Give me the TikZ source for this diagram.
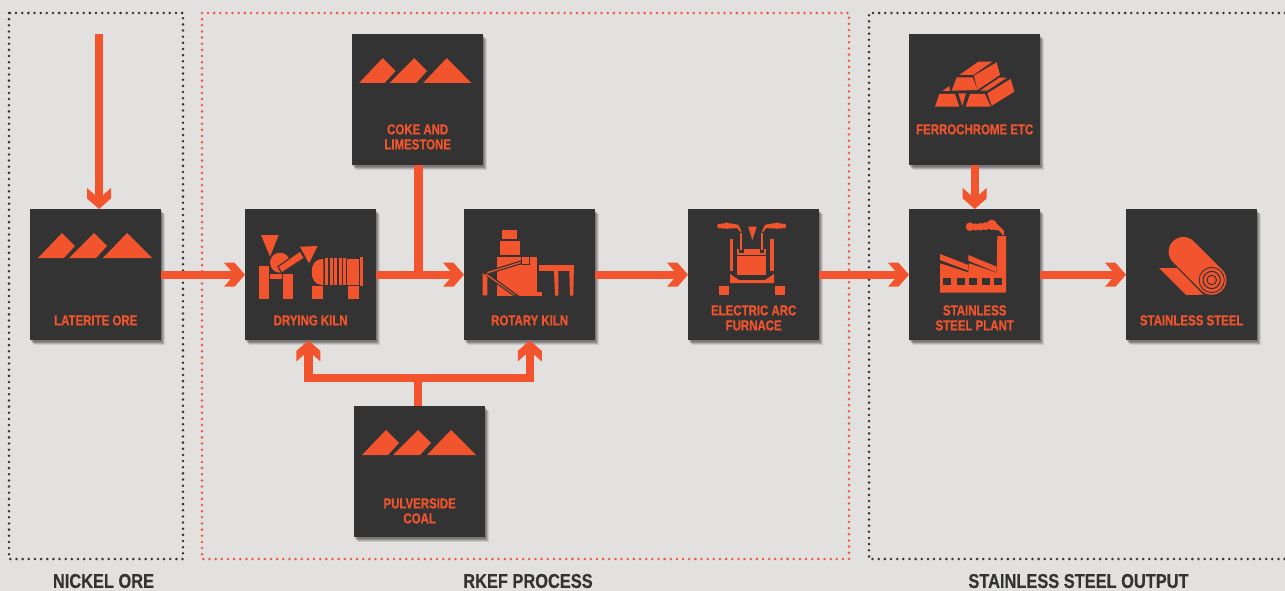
\documentclass[tikz,border=0pt]{standalone}
\usepackage{fontspec}
\newfontfamily\labf[FakeStretch=0.79,BoldFeatures={FakeBold=0.4}]{Liberation Sans}
\newfontfamily\capf[FakeStretch=0.82,BoldFeatures={FakeBold=0.35}]{Liberation Sans}
\usetikzlibrary{shadows,arrows.meta}
\definecolor{bgc}{HTML}{E2E1DF}
\definecolor{org}{HTML}{F2552E}
\definecolor{drk}{HTML}{333333}
\definecolor{dotk}{HTML}{333333}
\definecolor{dotr}{HTML}{F2553A}
\pgfdeclarearrow{
  name=Chev,
  setup code={
    \pgfarrowssettipend{0pt}
    \pgfarrowssetlineend{-6pt}
    \pgfarrowssetbackend{-21pt}
    \pgfarrowssetvisualbackend{-11pt}
    \pgfarrowshullpoint{0pt}{0pt}
    \pgfarrowshullpoint{-21pt}{12pt}
    \pgfarrowshullpoint{-21pt}{-12pt}
  },
  drawing code={
    \pgfpathmoveto{\pgfqpoint{0pt}{0pt}}
    \pgfpathlineto{\pgfqpoint{-10.5pt}{12pt}}
    \pgfpathlineto{\pgfqpoint{-21pt}{12pt}}
    \pgfpathlineto{\pgfqpoint{-10.5pt}{0pt}}
    \pgfpathlineto{\pgfqpoint{-21pt}{-12pt}}
    \pgfpathlineto{\pgfqpoint{-10.5pt}{-12pt}}
    \pgfpathclose
    \pgfusepathqfill
  }
}
\tikzset{
  frameK/.style={draw=dotk,line width=2.8pt,line cap=round,dash pattern=on 0pt off 6.15pt},
  frameR/.style={draw=dotr,line width=2.8pt,line cap=round,dash pattern=on 0pt off 6.15pt},
  flow/.style={draw=org,line width=8.4pt},
  flowtip/.style={flow,-{Chev}},
  box/.style={rectangle,fill=drk,minimum width=131pt,minimum height=131pt,inner sep=0pt,anchor=north west,
    general shadow={shadow xshift=1.2pt,shadow yshift=-1.4pt,fill=black,fill opacity=.16},
    general shadow={shadow xshift=2.2pt,shadow yshift=-2.6pt,fill=black,fill opacity=.16},
    general shadow={shadow xshift=3.2pt,shadow yshift=-3.8pt,fill=black,fill opacity=.14},
    general shadow={shadow xshift=4.2pt,shadow yshift=-5pt,fill=black,fill opacity=.10}},
  lab/.style={text=org,font=\labf\bfseries\fontsize{14.5}{15}\selectfont,align=center,inner sep=0pt,anchor=center},
  caption text/.style={text=drk,font=\capf\bfseries\fontsize{20}{21}\selectfont,inner sep=0pt,anchor=center},
  ic/.style={fill=org,draw=none},
  icd/.style={fill=drk,draw=none},
  icol/.style={fill=org,draw=drk,line width=1.1pt,line join=miter},
  mounts/.pic={
    \fill[ic] (8,49)--(32,24)--(45,37)--(34,49)--cycle;
    \fill[ic] (39,49)--(64,24)--(77,37)--(66,49)--cycle;
    \fill[ic] (73,49)--(97,24)--(122,49)--cycle;
  }
}
\begin{document}
\begin{tikzpicture}[x=1pt,y=-1pt]
\useasboundingbox (0,0) rectangle (1285,591);
\fill[bgc] (0,0) rectangle (1285,591);
% frames
\draw[frameK] (9,13) rectangle (183,559);
\draw[frameR] (202,13) rectangle (849,559);
\draw[frameK] (1285,13) -- (869,13) -- (869,559) -- (1285,559);
% boxes
\node[box] (laterite) at (30,209) {};
\node[box] (drying) at (245,209) {};
\node[box] (rotary) at (464,209) {};
\node[box] (eaf) at (688,209) {};
\node[box] (plant) at (909,209) {};
\node[box] (stainless) at (1126,209) {};
\node[box] (coke) at (352,34) {};
\node[box] (coal) at (354,406) {};
\node[box] (ferro) at (909,34) {};
% helper coordinates
\coordinate (oreStart) at (99,34);
\coordinate (cokeTap) at (418.3,165);
\coordinate (cokeJoin) at (418.3,274.5);
\coordinate (coalTap) at (418,406);
\coordinate (coalJoin) at (418,378);
\coordinate (branchL) at (308.4,378);
\coordinate (branchR) at (529.8,378);
\coordinate (ferroTap) at (974.7,165);
% connectors
\draw[flowtip] (oreStart) -- (laterite.north -| oreStart);
\draw[flowtip] (laterite.east) -- (drying.west);
\draw[flowtip] (drying.east) -- (rotary.west);
\draw[flowtip] (rotary.east) -- (eaf.west);
\draw[flowtip] (eaf.east) -- (plant.west);
\draw[flowtip] (plant.east) -- (stainless.west);
\draw[flow] (cokeTap) -- (cokeJoin);
\draw[flow] (coalTap) -- (coalJoin);
\draw[flowtip] (coalJoin) -- (branchL) -- (drying.south -| branchL);
\draw[flowtip] (coalJoin) -- (branchR) -- (rotary.south -| branchR);
\draw[flowtip] (ferroTap) -- (plant.north -| ferroTap);
% labels
\node[lab,yshift=20pt] (tlat) at (laterite.south) {LATERITE ORE};
\node[lab,yshift=20pt] (tdry) at (drying.south) {DRYING KILN};
\node[lab,yshift=20pt] (trot) at (rotary.south) {ROTARY KILN};
\node[lab,yshift=22.5pt] (teaf) at (eaf.south) {ELECTRIC ARC\\FURNACE};
\node[lab,yshift=22.5pt] (tpla) at (plant.south) {STAINLESS\\STEEL PLANT};
\node[lab,yshift=20pt] (tsta) at (stainless.south) {STAINLESS STEEL};
\node[lab,yshift=28.5pt] (tcok) at (coke.south) {COKE AND\\LIMESTONE};
\node[lab,yshift=26.5pt] (tcoa) at (coal.south) {PULVERSIDE\\COAL};
\node[lab,yshift=36pt] (tfer) at (ferro.south) {FERROCHROME ETC};
\node[caption text] (c1) at (103.5,581) {NICKEL ORE};
\node[caption text] (c2) at (528,581) {RKEF PROCESS};
\node[caption text] (c3) at (1078.5,581) {STAINLESS STEEL OUTPUT};
% mountain icons
\pic at (laterite.north west) {mounts};
\pic[xshift=-.8pt,xscale=.985] at (coke.north west) {mounts};
\pic at (coal.north west) {mounts};
% drying kiln icon
\fill[ic] (261,235)--(278.7,235)--(270,256.7)--cycle;
\fill[ic] (280,262.7) circle (10);
\draw[icol] (278,266.5)--(300,251)--(304.5,258)--(281.5,273)--cycle;
\fill[ic] (300,246.7)--(317.7,246)--(309,263.3)--cycle;
\fill[ic] (259,265.7) rectangle (269.3,298.7);
\fill[ic] (270,274) rectangle (282.3,279);
\fill[ic] (282.7,274) rectangle (293.3,298.7);
\fill[ic] (323.3,259) -- (322,259) .. controls (315,259) and (311.7,265) .. (311.7,272) .. controls (311.7,279) and (315,285) .. (322,285) -- (323.3,285) -- cycle;
\fill[ic] (325,258) rectangle (328.3,285);
\fill[ic] (329.5,258) rectangle (332.7,285);
\fill[ic] (334,258) rectangle (337.3,285);
\fill[ic] (338.7,258) rectangle (341.7,285);
\fill[ic] (342.8,258) rectangle (346,285);
\fill[ic] (347,258.5) rectangle (359.3,285);
\fill[ic] (360,257) rectangle (363.3,286);
\fill[ic] (312,286.3) rectangle (323,298.7);
\fill[ic] (348,286.3) rectangle (359,298.7);
% rotary kiln icon
\fill[ic] (502.3,230) rectangle (516.7,239.3);
\fill[ic] (500,241) rectangle (520,255);
\fill[ic] (497.3,256.7) rectangle (537.3,296);
\fill[ic] (517.3,291.7) rectangle (541.7,296);
\draw[icol] (485,272)--(521,261)--(521.5,263.5)--(486,274.5)--cycle;
\draw[icol] (521.5,256.2) rectangle (529.5,264.5);
\draw[icol] (486,272.5)--(517.5,295.5)--(514.5,296)--(484,274.5)--cycle;
\fill[ic] (482.7,273) -- (487.3,277) -- (487.3,295.3) -- (482.7,295.3) -- cycle;
\fill[ic] (539,265) rectangle (574,271);
\fill[ic] (554,271) -- (558.3,271) -- (558.3,295.7) -- (555,295.7) -- cycle;
\fill[ic] (569.3,271) -- (573.8,271) -- (573.3,295.7) -- (570,295.7) -- cycle;
% electric arc furnace icon
\foreach \xa/\ya/\ra in {719.5/226/2.4,723/226/2.8,726.7/225.7/3.3,730.5/226/2.8,734/226/2.3,783.9/226/2.4,780.4/226/2.8,776.7/225.7/3.3,772.9/226/2.8,769.4/226/2.3}
  \fill[ic] (\xa,\ya) circle (\ra);
\fill[ic] (734,223.8)--(738.5,225)--(741.5,231.5)--(740.2,231.8)--(737,228)--(733,228.3)--cycle;
\fill[ic] (769.4,223.8)--(764.9,225)--(761.9,231.5)--(763.2,231.8)--(766.4,228)--(770.4,228.3)--cycle;
\fill[ic] (748.3,226.7)--(756.7,226.7)--(752.3,240)--cycle;
\fill[ic] (739.8,233) rectangle (742,250);
\fill[ic] (761,233) rectangle (763.2,250);
\fill[ic] (737,249) rectangle (739,254);
\fill[ic] (737,253) rectangle (766,254.5);
\fill[ic] (764,249) rectangle (766,254);
\fill[ic] (743.5,249) rectangle (760,254);
\fill[ic] (737,255.5) rectangle (766,275);
\fill[ic] (730,239) rectangle (733.3,271);
\fill[ic] (770,239) rectangle (774,271);
\fill[ic] (730,274)--(739,280)--(765,280)--(774,274)--(774,283)--(730,283)--cycle;
\fill[ic] (719.3,286) rectangle (728.7,295.3);
\fill[ic] (775.3,286) rectangle (784.7,295.3);
% stainless steel plant icon
\fill[ic] (940,254)--(968.3,265)--(968.3,270.7)--(940,260)--cycle;
\fill[ic] (968.3,255)--(996.7,266.7)--(996.7,272.3)--(968.3,260.7)--cycle;
\fill[ic] (940,263.3)--(968.3,272.5)--(969,263.3)--(996.7,272.7)--(997.3,236)--(1006,236)--(1006,292.7)--(940,292.7)--cycle;
\foreach \xw in {943.3,957.3,969.3,982,994}
  \fill[icd] (\xw,277.7) rectangle ++(7.7,7.3);
\foreach \xa/\ya/\ra in {970/226.7/4.3,975.5/227/3.6,980.5/226.7/3.8,985.5/226.2/4,991.7/224.8/5.2}
  \fill[ic] (\xa,\ya) circle (\ra);
\fill[ic] (994,220.5)--(998.5,225.5)--(1003.8,230.5)--(1004,235)--(1002.5,235)--(999,230.5)--(993,229.5)--cycle;
% ferrochrome icon
\fill[ic] (959.3,75)--(978.3,61.7)--(992.3,61.7)--(973.3,75)--cycle;
\fill[ic] (974,75.7)--(996.7,62.3)--(1000,75)--(977.3,90)--cycle;
\fill[ic] (956.7,77.3)--(972.7,77.3)--(977.3,90)--(951.7,90.7)--cycle;
\fill[ic] (942.3,91)--(949.3,86)--(950,91)--cycle;
\fill[ic] (939.3,94)--(955,94)--(959.3,106.7)--(935,106.7)--cycle;
\fill[ic] (958.3,93.3)--(966,93.3)--(962.3,106)--cycle;
\fill[ic] (970,94)--(985,94)--(990.7,106.7)--(965.7,106.7)--cycle;
\fill[ic] (987.3,93.3)--(1010.7,79)--(1014.3,91.7)--(991.7,105.7)--cycle;
\fill[ic] (980,90.7)--(999.3,77.7)--(1006.7,77.7)--(987.3,90.7)--cycle;
% stainless steel roll icon
\fill[ic] (1159,268)--(1177,268)--(1203,294.5)--(1212,294.5)--(1186,295)--cycle;
\draw[org,line width=29.4pt,line cap=round] (1183.3,251.7) -- (1211.7,280);
\draw[drk,line width=.9pt] (1211.7,280) circle (12.6);
\draw[drk,line width=1.1pt] (1211.7,280) circle (8.6);
\draw[drk,line width=1pt] (1211.7,280) circle (4.8);
\end{tikzpicture}
\end{document}
